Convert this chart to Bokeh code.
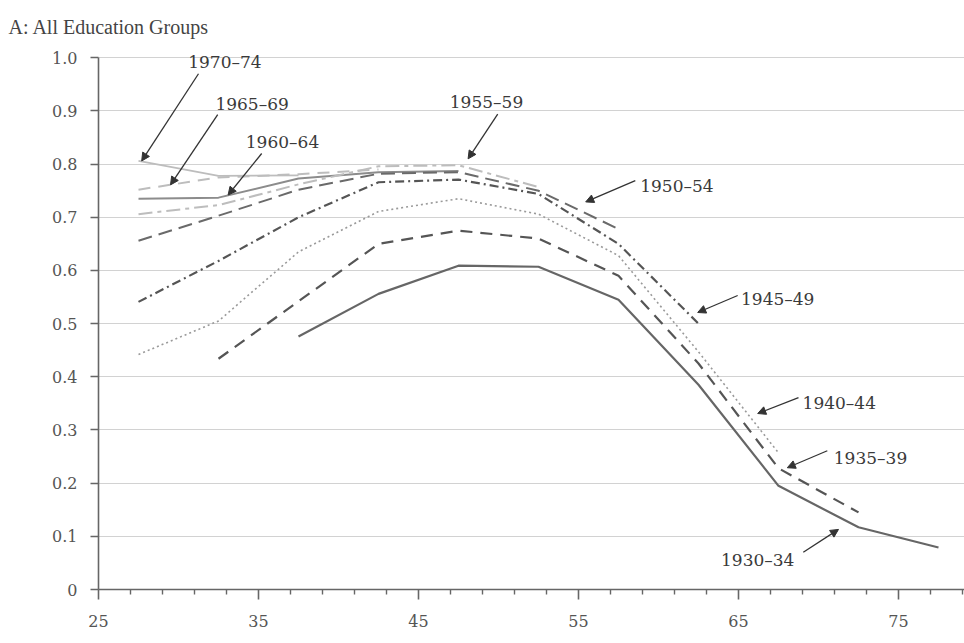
from bokeh.plotting import figure
from bokeh.models import (Range1d, FixedTicker, CustomJSTickFormatter, Label,
                          Arrow, NormalHead)
from bokeh.embed import file_html
from bokeh.resources import INLINE

# ---------------- data ----------------
ages = [27.5, 32.5, 37.5, 42.5, 47.5, 52.5, 57.5, 62.5, 67.5, 72.5, 77.5]

c1930_34 = [0.476, 0.556, 0.609, 0.607, 0.545, 0.385, 0.195, 0.117, 0.079]   # from 37.5
c1935_39 = [0.434, 0.542, 0.650, 0.675, 0.660, 0.590, 0.425, 0.228, 0.145]   # from 32.5
c1940_44 = [0.442, 0.505, 0.635, 0.711, 0.735, 0.706, 0.628, 0.447, 0.257]   # from 27.5
c1945_49 = [0.541, 0.618, 0.700, 0.766, 0.771, 0.744, 0.650, 0.500]
c1950_54 = [0.656, 0.703, 0.752, 0.782, 0.785, 0.750, 0.678]
c1955_59 = [0.706, 0.723, 0.762, 0.796, 0.798, 0.757]
c1960_64 = [0.735, 0.737, 0.773, 0.785, 0.787]
c1965_69 = [0.752, 0.775, 0.781, 0.790]
c1970_74 = [0.806, 0.778, 0.779]

cohort_names = ["1930–34", "1935–39", "1940–44", "1945–49", "1950–54",
                "1955–59", "1960–64", "1965–69", "1970–74"]
first_age_index = [2, 1, 0, 0, 0, 0, 0, 0, 0]
series = [c1930_34, c1935_39, c1940_44, c1945_49, c1950_54,
          c1955_59, c1960_64, c1965_69, c1970_74]

x_ticks = [25, 35, 45, 55, 65, 75]
x_minor = [27, 29, 31, 33, 37, 39, 41, 43, 47, 49, 51, 53, 57, 59, 61, 63,
           67, 69, 71, 73, 77, 79]
y_ticks = [0, 0.1, 0.2, 0.3, 0.4, 0.5, 0.6, 0.7, 0.8, 0.9, 1.0]

title_text = "A: All Education Groups"

# ---------------- styles ----------------
styles = {
    "1930–34": dict(color="#666666", width=2.2, dash="solid"),
    "1935–39": dict(color="#555555", width=2.2, dash="12 8"),
    "1940–44": dict(color="#9a9a9a", width=1.6, dash="2 3"),
    "1945–49": dict(color="#555555", width=2.2, dash="9 4 2 4"),
    "1950–54": dict(color="#6a6a6a", width=2.0, dash="14 7"),
    "1955–59": dict(color="#bdbdbd", width=2.0, dash="14 5 4 5"),
    "1960–64": dict(color="#8c8c8c", width=2.0, dash="solid"),
    "1965–69": dict(color="#bdbdbd", width=2.0, dash="12 8"),
    "1970–74": dict(color="#bdbdbd", width=1.8, dash="solid"),
}

p = figure(width=964, height=643, output_backend="svg", toolbar_location=None,
           x_range=Range1d(25, 25 + 866 / 16), y_range=Range1d(0, 1.01),
           min_border_left=98, min_border_right=0, min_border_top=52,
           min_border_bottom=54)
p.outline_line_color = None
p.background_fill_color = "white"

# title
p.title.text = title_text
p.title.align = "left"
p.title.vertical_align = "top"
p.title.offset = -90
p.title.standoff = 25
p.title.text_font = "Liberation Serif"
p.title.text_font_size = "20px"
p.title.text_font_style = "normal"
p.title.text_color = "#444444"

# grid
p.xgrid.visible = False
p.ygrid.ticker = FixedTicker(ticks=y_ticks[1:])
p.ygrid.grid_line_color = "#d2d2d2"
p.ygrid.grid_line_width = 1.2

# axes
xa = p.xaxis[0]
xa.ticker = FixedTicker(ticks=x_ticks, minor_ticks=x_minor)
xa.axis_line_color = "#666666"
xa.axis_line_width = 1.6
xa.major_tick_line_color = "#666666"
xa.major_tick_line_width = 1.6
xa.major_tick_out = 10
xa.major_tick_in = 0
xa.minor_tick_line_color = "#666666"
xa.minor_tick_line_width = 1.4
xa.minor_tick_out = 5
xa.minor_tick_in = 0
xa.major_label_standoff = 15
xa.major_label_text_font = "DejaVu Serif"
xa.major_label_text_font_size = "16px"
xa.major_label_text_color = "#555555"

ya = p.yaxis[0]
ya.ticker = FixedTicker(ticks=y_ticks, minor_ticks=[])
ya.bounds = (0, 1)
ya.formatter = CustomJSTickFormatter(code="return tick == 0 ? '0' : tick.toFixed(1);")
ya.axis_line_color = "#666666"
ya.axis_line_width = 1.6
ya.major_tick_line_color = "#666666"
ya.major_tick_line_width = 1.4
ya.major_tick_out = 8
ya.major_tick_in = 0
ya.minor_tick_line_color = None
ya.major_label_standoff = 13
ya.major_label_text_font = "DejaVu Serif"
ya.major_label_text_font_size = "16px"
ya.major_label_text_color = "#555555"

# lines (light ones first)
order = list(range(len(series)))[::-1]
for i in order:
    name = cohort_names[i]
    vals = series[i]
    xs = ages[first_age_index[i]:first_age_index[i] + len(vals)]
    st = styles[name]
    p.line(xs, vals, line_color=st["color"], line_width=st["width"],
           line_dash=st["dash"], line_join="round")

# cohort labels with arrows: (text, label x, label y, arrow start x, y, arrow end x, y)
annotations = [
    ("1970–74", 32.9, 0.993, 31.25, 0.970, 27.7, 0.806),
    ("1965–69", 34.6, 0.914, 32.45, 0.893, 29.5, 0.761),
    ("1960–64", 36.5, 0.842, 35.2, 0.820, 33.1, 0.742),
    ("1955–59", 49.25, 0.917, 49.95, 0.894, 48.1, 0.810),
    ("1950–54", 61.15, 0.758, 58.55, 0.769, 55.45, 0.729),
    ("1945–49", 67.45, 0.547, 64.95, 0.553, 62.45, 0.521),
    ("1940–44", 71.3, 0.350, 68.75, 0.361, 66.2, 0.331),
    ("1935–39", 73.25, 0.248, 70.55, 0.261, 68.05, 0.229),
    ("1930–34", 66.2, 0.055, 69.05, 0.070, 71.25, 0.113),
]
for txt, lx, ly, x0, y0, x1, y1 in annotations:
    p.add_layout(Label(x=lx, y=ly, text=txt, text_font="DejaVu Serif",
                       text_font_size="17px", text_color="#3a3a3a",
                       text_align="center", text_baseline="middle"))
    p.add_layout(Arrow(x_start=x0, y_start=y0, x_end=x1, y_end=y1,
                       line_color="#333333", line_width=1.3,
                       end=NormalHead(size=8, fill_color="#333333",
                                      line_color="#333333", line_width=1)))

open("out.html", "w").write(file_html(p, INLINE))
